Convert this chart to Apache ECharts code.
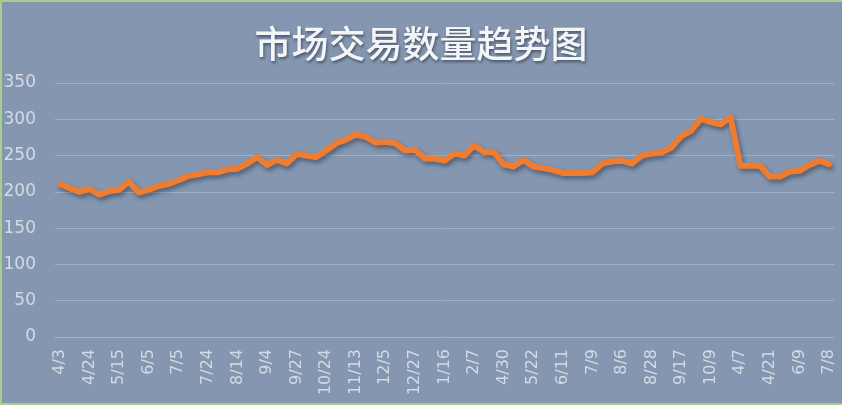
<!DOCTYPE html>
<html>
<head>
<meta charset="utf-8">
<script src="https://cdn.jsdelivr.net/npm/echarts@6/dist/echarts.min.js"></script>
<style>
html,body{margin:0;padding:0;background:#8496b0;}
#chart{width:842px;height:405px;position:absolute;left:0;top:0;}
#frame{position:absolute;left:0;top:0;width:842px;height:405px;box-sizing:border-box;border-left:2px solid #a6cf8c;border-top:2px solid #a6cf8c;border-bottom:2px solid #a6cf8c;pointer-events:none;}
</style>
</head>
<body>
<div id="chart"></div>
<div id="frame"></div>
<script>
const titleText = '市场交易数量趋势图';

const categories = [
  '4/3','4/10','4/17',
  '4/24','5/1','5/8',
  '5/15','5/22','5/29',
  '6/5','6/15','6/25',
  '7/5','7/12','7/18',
  '7/24','7/31','8/7',
  '8/14','8/21','8/28',
  '9/4','9/11','9/18',
  '9/27','10/10','10/17',
  '10/24','10/31','11/6',
  '11/13','11/20','11/27',
  '12/5','12/12','12/19',
  '12/27','1/3','1/9',
  '1/16','1/23','1/30',
  '2/7','2/14','4/23',
  '4/30','5/8','5/15',
  '5/22','5/29','6/4',
  '6/11','6/18','6/25',
  '7/9','7/16','7/23',
  '8/6','8/13','8/20',
  '8/28','9/4','9/10',
  '9/17','9/24','9/30',
  '10/9','10/16','10/23',
  '4/7','4/12','4/16',
  '4/21','5/5','5/19',
  '6/9','6/16','6/23',
  '7/8'
];

const volumes = [
  211, 205, 200, 204, 196, 201, 203, 214, 199, 203,
  208, 211, 216, 222, 224, 227, 227, 231, 232, 239,
  248, 237, 244, 239, 252, 250, 248, 257, 267, 272,
  279, 276, 268, 269, 267, 257, 258, 246, 246, 243,
  253, 250, 264, 255, 255, 238, 235, 244, 235, 233,
  230, 226, 226, 226, 227, 239, 242, 243, 239, 250,
  253, 254, 261, 277, 284, 301, 296, 293, 303, 236,
  236, 236, 221, 221, 228, 229, 237, 243, 238
];

const yMin = 0, yMax = 350, yStep = 50;

const chart = echarts.init(document.getElementById('chart'), null, {renderer: 'canvas'});
chart.setOption({
  backgroundColor: '#8496b0',
  animation: false,
  title: {
    text: titleText,
    left: 'center',
    top: 20,
    textStyle: {
      fontFamily: '"Noto Sans CJK SC", sans-serif',
      fontSize: 37,
      fontWeight: 500,
      color: '#f4f5f7',
      textShadowColor: 'rgba(30,40,60,0.6)',
      textShadowBlur: 3,
      textShadowOffsetX: 1,
      textShadowOffsetY: 2
    }
  },
  grid: {left: 55, right: 8, top: 83, bottom: 68, containLabel: false},
  xAxis: {
    type: 'category',
    data: categories,
    boundaryGap: true,
    axisLine: {show: true, lineStyle: {color: '#a3b0c5', width: 1}},
    axisTick: {show: false},
    axisLabel: {
      interval: 2,
      rotate: 90,
      margin: 12,
      color: '#d5dbe5',
      fontSize: 16,
      fontFamily: '"DejaVu Sans", sans-serif'
    },
    splitLine: {show: false}
  },
  yAxis: {
    type: 'value',
    min: yMin,
    max: yMax,
    interval: yStep,
    axisLine: {show: false},
    axisTick: {show: false},
    axisLabel: {
      margin: 19,
      color: '#d5dbe5',
      fontSize: 17,
      fontFamily: '"DejaVu Sans", sans-serif'
    },
    splitLine: {lineStyle: {color: '#a3b0c5', width: 1}}
  },
  series: [{
    type: 'line',
    data: volumes,
    symbol: 'none',
    smooth: false,
    lineStyle: {
      color: '#ee7d31',
      width: 6,
      join: 'round',
      cap: 'round',
      shadowColor: 'rgba(20,30,50,0.45)',
      shadowBlur: 4,
      shadowOffsetX: 2,
      shadowOffsetY: 3
    }
  }]
});
</script>
</body>
</html>
